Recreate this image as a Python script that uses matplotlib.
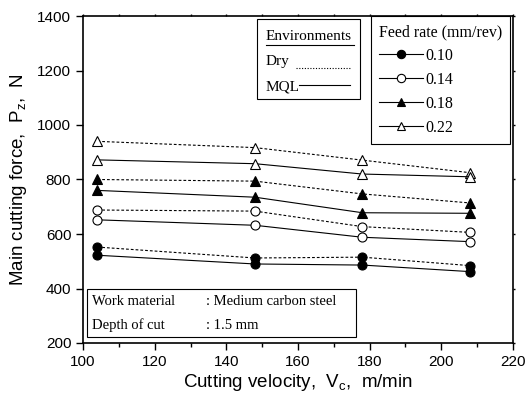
import matplotlib
matplotlib.use("Agg")
import matplotlib.pyplot as plt
from matplotlib.lines import Line2D
from matplotlib.patches import Rectangle

# cutting velocity (m/min)
vc = [104, 148, 178, 208]

# main cutting force Pz (N), dry and MQL for each feed rate
dry_010 = [552, 512, 515, 484]
mql_010 = [522, 490, 486, 462]
dry_014 = [688, 684, 627, 606]
mql_014 = [652, 632, 588, 572]
dry_018 = [800, 794, 747, 714]
mql_018 = [760, 735, 678, 676]
dry_022 = [940, 917, 871, 825]
mql_022 = [872, 858, 820, 810]

feed_labels = ["0.10", "0.14", "0.18", "0.22"]
markers = ["o", "o", "^", "^"]
faces = ["black", "white", "black", "white"]

plt.rcParams["mathtext.default"] = "regular"
serif = "Liberation Serif"
sans = "Liberation Sans"

fig = plt.figure(figsize=(5.26, 4.0), dpi=100)
ax = fig.add_axes([0.158, 0.1425, 0.817, 0.8175])

dry_sets = [dry_010, dry_014, dry_018, dry_022]
mql_sets = [mql_010, mql_014, mql_018, mql_022]
for dry, mql, m, fc in zip(dry_sets, mql_sets, markers, faces):
    ax.plot(vc, dry, color="black", lw=0.8, ls=(0, (2.5, 1.8)), marker=m,
            mfc=fc, mec="black", ms=6.5, mew=0.8)
    ax.plot(vc, mql, color="black", lw=0.8, ls="-", marker=m,
            mfc=fc, mec="black", ms=6.5, mew=0.8)

ax.set_xlim(100, 220)
ax.set_ylim(200, 1400)
ax.set_xticks(range(100, 221, 20))
ax.set_xticks(range(110, 220, 20), minor=True)
ax.set_yticks(range(200, 1401, 200))
ax.tick_params(which="major", direction="out", length=5, width=1, labelsize=11)
ax.tick_params(which="minor", direction="out", length=3, width=1)
# tiny ticks on the top and right frame
ax.tick_params(which="both", top=True, right=True)
ax.xaxis.set_tick_params(which="both", top=True)
for t in ax.xaxis.get_major_ticks() + ax.xaxis.get_minor_ticks():
    t.tick2line.set_markersize(1.5)
for t in ax.yaxis.get_major_ticks():
    t.tick2line.set_markersize(1.5)
for lab in ax.get_xticklabels() + ax.get_yticklabels():
    lab.set_fontfamily(sans)
for s in ax.spines.values():
    s.set_linewidth(1.2)

ax.set_xlabel(r"Cutting velocity,  V$_c$,  m/min", fontsize=13.5,
              family=sans, labelpad=2)
ax.set_ylabel(r"Main cutting force,  P$_z$,  N", fontsize=13.5,
              family=sans, labelpad=6)

# feed rate legend
handles = [Line2D([], [], color="black", lw=0.8, marker=m, mfc=fc,
                  mec="black", ms=6, mew=0.8)
           for m, fc in zip(markers, faces)]
leg = ax.legend(handles, feed_labels, title="Feed rate (mm/rev)",
                loc="upper right", bbox_to_anchor=(0.993, 1.0),
                borderaxespad=0, fancybox=False, edgecolor="black",
                framealpha=1, handlelength=2.75, handletextpad=0.15,
                labelspacing=0.5, borderpad=0.5, alignment="left",
                prop={"family": serif, "size": 11.5},
                title_fontproperties={"family": serif, "size": 11.5})
leg.get_frame().set_linewidth(0.8)

# environments box
ax.add_patch(Rectangle((0.404, 0.746), 0.240, 0.245, transform=ax.transAxes,
                       fill=False, ec="black", lw=0.8))
ax.text(0.425, 0.936, "Environments", transform=ax.transAxes,
        family=serif, fontsize=11, va="center")
ax.plot([0.425, 0.630], [0.912, 0.912], transform=ax.transAxes,
        color="black", lw=0.8)
ax.text(0.425, 0.860, "Dry", transform=ax.transAxes,
        family=serif, fontsize=11, va="center")
ax.plot([0.495, 0.620], [0.842, 0.842], transform=ax.transAxes,
        color="black", lw=0.8, ls=(0, (1, 1.5)))
ax.text(0.425, 0.782, "MQL", transform=ax.transAxes,
        family=serif, fontsize=11, va="center")
ax.plot([0.502, 0.620], [0.789, 0.789], transform=ax.transAxes,
        color="black", lw=0.8)

# work condition box
ax.add_patch(Rectangle((0.010, 0.018), 0.625, 0.148, transform=ax.transAxes,
                       fill=False, ec="black", lw=0.8))
ax.text(0.020, 0.126, "Work material", transform=ax.transAxes,
        family=serif, fontsize=10.5, va="center")
ax.text(0.285, 0.126, ": Medium carbon steel", transform=ax.transAxes,
        family=serif, fontsize=10.5, va="center")
ax.text(0.020, 0.055, "Depth of cut", transform=ax.transAxes,
        family=serif, fontsize=10.5, va="center")
ax.text(0.285, 0.055, ": 1.5 mm", transform=ax.transAxes,
        family=serif, fontsize=10.5, va="center")

fig.savefig("out.png", dpi=100)
